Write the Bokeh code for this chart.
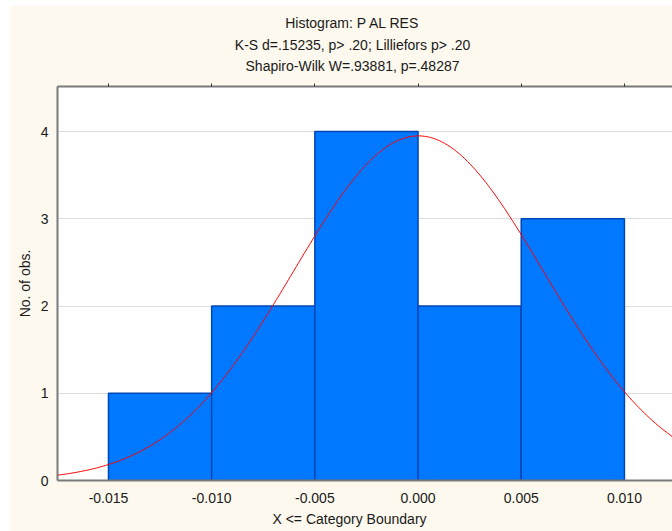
import numpy as np
from bokeh.plotting import figure
from bokeh.models import Range1d, FixedTicker, LinearAxis, Title, ColumnDataSource
from bokeh.embed import file_html
from bokeh.resources import INLINE

# ---- data ----
bin_left = [-0.015, -0.010, -0.005, 0.000, 0.005]
bin_right = [-0.010, -0.005, 0.000, 0.005, 0.010]
counts = [1, 2, 4, 2, 3]
n_obs = 12
fit_mean = 0.00002
fit_sd = 0.00606
bin_width = 0.005
x_ticks = [-0.015, -0.010, -0.005, 0.000, 0.005, 0.010]
x_tick_labels = ["-0.015", "-0.010", "-0.005", "0.000", "0.005", "0.010"]
y_ticks = [0, 1, 2, 3, 4]
title_lines = ["Histogram: P AL RES",
               "K-S d=.15235, p> .20; Lilliefors p> .20",
               "Shapiro-Wilk W=.93881, p=.48287"]
x_label = "X <= Category Boundary"
y_label = "No. of obs."

FONT = "Liberation Sans"
FS = 14
CREAM = "#FDF9EE"
TXT = "#1a1a1a"

# Arial advance widths (per 1000 em) for centering left-aligned titles
_AW = {' ': 278, '-': 333, '.': 278, ',': 278, ';': 278, ':': 278, '=': 584, '>': 584, '<': 584,
       'A': 667, 'B': 667, 'C': 722, 'E': 667, 'H': 722, 'K': 667, 'L': 556, 'N': 722,
       'P': 667, 'R': 722, 'S': 667, 'W': 944, 'X': 667,
       'a': 556, 'b': 556, 'd': 556, 'e': 556, 'f': 278, 'g': 556, 'h': 556, 'i': 222,
       'k': 500, 'l': 222, 'm': 833, 'n': 556, 'o': 556, 'p': 556, 'r': 333, 's': 500,
       't': 278, 'u': 556, 'y': 500}


def text_w(s, size=FS):
    return sum(_AW.get(c, 556) for c in s) / 1000.0 * size


PAGE_L, PAGE_T = 9, 5
W, H = 672 - PAGE_L, 526
FRAME_L, FRAME_T, FRAME_B = 57 - PAGE_L, 86 - PAGE_T, 480 - PAGE_T
BL, BR, BT, BB = FRAME_L, 0, FRAME_T, H - FRAME_B

p = figure(width=W, height=H, output_backend="svg", toolbar_location=None,
           x_range=Range1d(-0.01747, 0.01233), y_range=Range1d(0, 4.516),
           min_border_left=BL, min_border_right=BR, min_border_top=BT,
           min_border_bottom=BB, title=None)
p.margin = (PAGE_T, 0, 0, PAGE_L)
p.border_fill_color = CREAM
p.background_fill_color = "white"
p.outline_line_color = None

p.xgrid.grid_line_color = None
p.ygrid.grid_line_color = "#DCDCDC"
p.ygrid.grid_line_width = 1
p.ygrid.ticker = FixedTicker(ticks=y_ticks)

src = ColumnDataSource(dict(left=bin_left, right=bin_right, top=counts,
                            bottom=[0] * len(counts)))
p.quad(left="left", right="right", top="top", bottom="bottom", source=src,
       fill_color="#0078FF", line_color="#0046B4", line_width=1.5)

xs = np.linspace(-0.01747, 0.01233, 400)
ys = n_obs * bin_width / (fit_sd * np.sqrt(2 * np.pi)) * np.exp(-0.5 * ((xs - fit_mean) / fit_sd) ** 2)
p.line(xs, ys, line_color="#FF0000", line_width=1)

# axes
xa = p.xaxis[0]
xa.ticker = FixedTicker(ticks=x_ticks)
xa.major_label_overrides = {t: l for t, l in zip(x_ticks, x_tick_labels)}
xa.major_tick_out = 0
xa.major_tick_in = 0
xa.minor_tick_out = 0
xa.minor_tick_in = 0
xa.major_label_standoff = 12
xa.major_label_text_font = FONT
xa.major_label_text_font_size = f"{FS}px"
xa.major_label_text_color = TXT
xa.axis_line_color = "#7a7a7a"
xa.axis_line_width = 2

ya = p.yaxis[0]
ya.ticker = FixedTicker(ticks=y_ticks)
ya.major_tick_out = 0
ya.major_tick_in = 0
ya.minor_tick_out = 0
ya.minor_tick_in = 0
ya.major_label_standoff = 9
ya.major_label_text_font = FONT
ya.major_label_text_font_size = f"{FS}px"
ya.major_label_text_color = TXT
ya.axis_line_color = "#7a7a7a"
ya.axis_line_width = 2
ya.axis_label = y_label
ya.axis_label_text_font = FONT
ya.axis_label_text_font_size = f"{FS}px"
ya.axis_label_text_font_style = "normal"
ya.axis_label_text_color = TXT
ya.axis_label_standoff = 5

top_axis = LinearAxis(ticker=FixedTicker(ticks=x_ticks))
top_axis.major_label_text_color = None
top_axis.major_label_text_font_size = "0px"
top_axis.major_label_standoff = 0
top_axis.major_tick_out = 3
top_axis.major_tick_in = 0
top_axis.minor_tick_out = 0
top_axis.minor_tick_in = 0
top_axis.major_tick_line_color = "#333333"
top_axis.axis_line_color = "#7a7a7a"
top_axis.axis_line_width = 2
p.add_layout(top_axis, "above")

TITLE_CX = 352
# (line index, standoff, vertical alignment) from nearest the frame outward
title_spec = [(2, 15, "top"), (1, -4, "bottom"), (0, 11, "bottom")]
for idx, so, va in title_spec:
    line = title_lines[idx]
    off = TITLE_CX - text_w(line) / 2 - 57
    p.add_layout(Title(text=line, align="left", offset=off, standoff=so, vertical_align=va,
                       text_font=FONT, text_font_size=f"{FS}px",
                       text_font_style="normal", text_color=TXT), "above")

XL_CX = 349
p.add_layout(Title(text=x_label, align="left", offset=XL_CX - text_w(x_label) / 2 - 57,
                   standoff=7, text_font=FONT, text_font_size=f"{FS}px",
                   text_font_style="normal", text_color=TXT), "below")

open("out.html", "w").write(file_html(p, INLINE))
